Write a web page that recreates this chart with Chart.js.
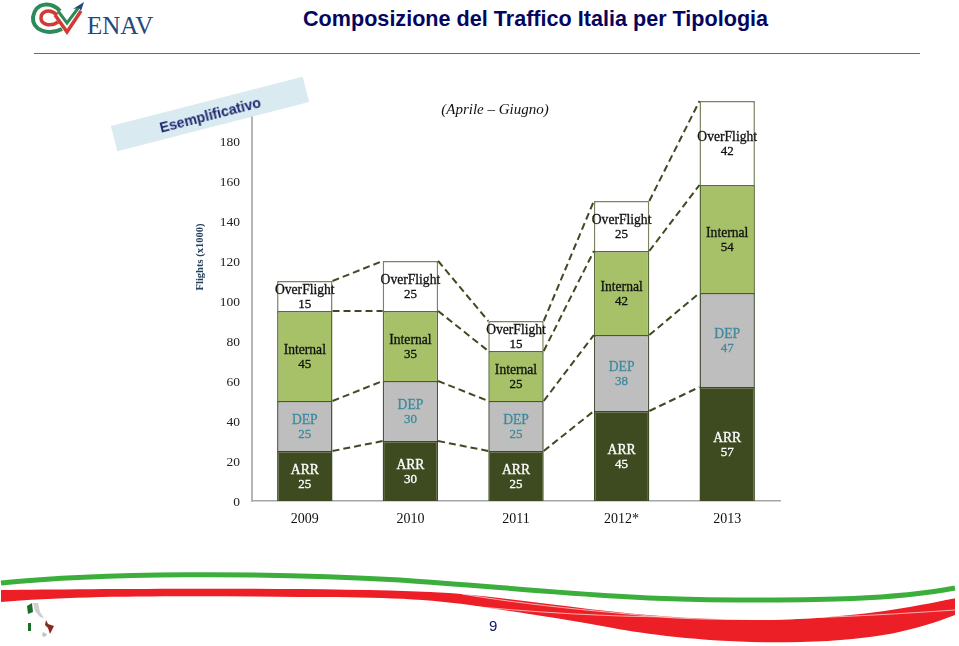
<!DOCTYPE html>
<html>
<head>
<meta charset="utf-8">
<script src="https://cdn.jsdelivr.net/npm/chart.js@4/dist/chart.umd.min.js"></script>
<style>
  html, body { margin: 0; padding: 0; background: #fff; }
  #page { position: relative; width: 959px; height: 646px; overflow: hidden; }
  #chart { position: absolute; left: 0; top: 0; }
  #title { position: absolute; left: 303px; top: 6px; font: bold 21.6px "Liberation Sans", sans-serif; color: #04065f; white-space: nowrap; }
  #rule { position: absolute; left: 34px; top: 53px; width: 886px; height: 1px; background: #4f6f9a; }
  #stamp { position: absolute; left: 111px; top: 101px; width: 198px; height: 26px; background: #d9ebf0; transform: rotate(-14.4deg);
           font: bold 14.2px "Liberation Sans", sans-serif; color: #1f2a70; text-align: center; line-height: 29px; }
  #pageNo { position: absolute; left: 489px; top: 617px; font: 15px "Liberation Sans", sans-serif; color: #12126a; }
  #logoText { position: absolute; left: 87px; top: 12px; font: 25px "Liberation Serif", serif; color: #23487c; }
  svg { position: absolute; left: 0; top: 0; }
</style>
</head>
<body>
<div id="page">
  <svg width="959" height="646">
    <!-- logo -->
    <g fill="none">
      <path d="M60 11 C52 2 36 1 33 17 C32 30 48 36 62 29" stroke="#2f8a5a" stroke-width="4"/>
      <path d="M57 15 C50 8 41 11 41 18 C41 25 51 27 58 22" stroke="#d23a34" stroke-width="3.5"/>
      <path d="M55 15 L67 32 L81 11" stroke="#d23a34" stroke-width="3.5"/>
      <path d="M58 11 L67 23 L79 7" stroke="#2f8a5a" stroke-width="3"/>
    </g>
    <path d="M73 9 L84 2 L81 11 L79 8 Z" fill="#1f4a80"/>
    <!-- ribbons -->
    <path d="M1 583 C100 573 260 572 400 580 C520 588 620 600 736 600 C820 600 890 600 955 588" fill="none" stroke="#3cae3c" stroke-width="5"/>
    <path d="M1 590 C100 589 300 587 430 592 C500 595 590 612 675 617 C730 620 770 621 798 619 C860 616 910 608 955 598 L955 615 C915 630 880 640 800 642 C720 644 650 635 613 628 C560 618 510 611 470 605 C420 598 370 597 300 597 C200 596 80 595 1 602 Z" fill="#ec1f27"/>
    <path d="M462 594 C520 604 600 612 675 618 C740 621 800 620 860 612 C890 608 925 603 955 598" fill="none" stroke="#fff" stroke-width="0.8" opacity="0.8"/>
    <path d="M470 606 C530 612 610 617 680 617 C750 621 840 618 955 610" fill="none" stroke="#fff" stroke-width="0.8" opacity="0.8"/>
    <!-- italy -->
    <path d="M27 606 L32 603 L33 612 L28 614 Z" fill="#1b6e2a"/>
    <path d="M33 603 L38 603 L40 612 L44 618 L40 617 L35 611 Z" fill="#cfcfcf"/>
    <rect x="28" y="623" width="3" height="8" fill="#1b6e2a"/>
    <path d="M46 620 L48 624 L54 626 L52 630 L50 634 L48 628 L45 625 Z" fill="#8a2a1c"/>
    <path d="M43 632 L47 634 L45 637 L42 636 Z" fill="#c4c4c4"/>
  </svg>
  <div id="logoText">ENAV</div>
  <div id="title">Composizione del Traffico Italia per Tipologia</div>
  <div id="rule"></div>
  <canvas id="chart" width="959" height="646"></canvas>
  <div id="stamp">Esemplificativo</div>
  <div id="pageNo">9</div>
</div>
<script>
const categories = ['2009', '2010', '2011', '2012*', '2013'];
const arrValues = [25, 30, 25, 45, 57];
const depValues = [25, 30, 25, 38, 47];
const internalValues = [45, 35, 25, 42, 54];
const overflightValues = [15, 25, 15, 25, 42];
const yTicks = [0, 20, 40, 60, 80, 100, 120, 140, 160, 180, 200];

const serif = '"Liberation Serif", serif';

// dashed connectors between the bars, and the two-line labels inside them
const barExtras = {
  id: 'barExtras',
  afterDatasetsDraw(chart) {
    const ctx = chart.ctx;
    ctx.save();
    ctx.strokeStyle = '#3f4a22';
    ctx.lineWidth = 2;
    ctx.setLineDash([7, 4]);
    chart.data.datasets.forEach((ds, d) => {
      const bars = chart.getDatasetMeta(d).data;
      for (let i = 0; i < bars.length - 1; i++) {
        ctx.beginPath();
        ctx.moveTo(bars[i].x + bars[i].width / 2, bars[i].y);
        ctx.lineTo(bars[i + 1].x - bars[i + 1].width / 2, bars[i + 1].y);
        ctx.stroke();
      }
    });
    ctx.setLineDash([]);
    ctx.textAlign = 'center';
    ctx.textBaseline = 'middle';
    ctx.lineWidth = 0.3;
    chart.data.datasets.forEach((ds, d) => {
      chart.getDatasetMeta(d).data.forEach((bar, i) => {
        const mid = (bar.y + bar.base) / 2;
        ctx.fillStyle = ds.textColor;
        ctx.strokeStyle = ds.textColor;
        ctx.font = '13.6px ' + serif;
        ctx.fillText(ds.label, bar.x, mid - 6);
        ctx.strokeText(ds.label, bar.x, mid - 6);
        ctx.font = '13px ' + serif;
        ctx.fillText(ds.data[i], bar.x, mid + 9);
        ctx.strokeText(ds.data[i], bar.x, mid + 9);
      });
    });
    // subtitle and axis title
    ctx.fillStyle = '#111';
    ctx.font = 'italic 15px ' + serif;
    ctx.fillText('(Aprile – Giugno)', 495, 110);
    ctx.translate(200, 257);
    ctx.rotate(-Math.PI / 2);
    ctx.fillStyle = '#26405e';
    ctx.font = 'bold 10.5px ' + serif;
    ctx.fillText('Flights (x1000)', 0, 0);
    ctx.restore();
  }
};

new Chart(document.getElementById('chart'), {
  type: 'bar',
  data: {
    labels: categories,
    datasets: [
      { label: 'ARR', data: arrValues, backgroundColor: '#3e4b21', borderColor: '#3e4b21', textColor: '#ffffff' },
      { label: 'DEP', data: depValues, backgroundColor: '#bebebe', borderColor: '#4c5440', textColor: '#3f8a9c' },
      { label: 'Internal', data: internalValues, backgroundColor: '#a6c167', borderColor: '#5a6b3a', textColor: '#111111' },
      { label: 'OverFlight', data: overflightValues, backgroundColor: '#ffffff', borderColor: '#7a8560', textColor: '#111111' }
    ]
  },
  options: {
    responsive: false,
    animation: false,
    layout: { padding: { left: 0, top: 101, right: 179, bottom: 0 } },
    plugins: { legend: { display: false }, tooltip: { enabled: false } },
    datasets: { bar: { categoryPercentage: 1, barPercentage: 0.525, borderWidth: 1.5 } },
    scales: {
      x: {
        stacked: true,
        grid: { display: false, drawTicks: false },
        border: { color: '#a6a6a6', width: 1.5 },
        ticks: { color: '#111', font: { family: serif, size: 14 }, padding: 10, maxRotation: 0 },
        afterFit(scale) { scale.height = 145; }
      },
      y: {
        stacked: true,
        min: 0,
        max: 200,
        afterBuildTicks(scale) { scale.ticks = yTicks.map(v => ({ value: v })); },
        grid: { display: false, drawTicks: true, tickLength: 4, tickColor: '#a6a6a6' },
        border: { color: '#b5b5b5', width: 2 },
        ticks: { color: '#222', font: { family: serif, size: 13.5 }, padding: 8, labelOffset: 1 },
        afterFit(scale) { scale.width = 252; }
      }
    }
  },
  plugins: [barExtras]
});
</script>
</body>
</html>
